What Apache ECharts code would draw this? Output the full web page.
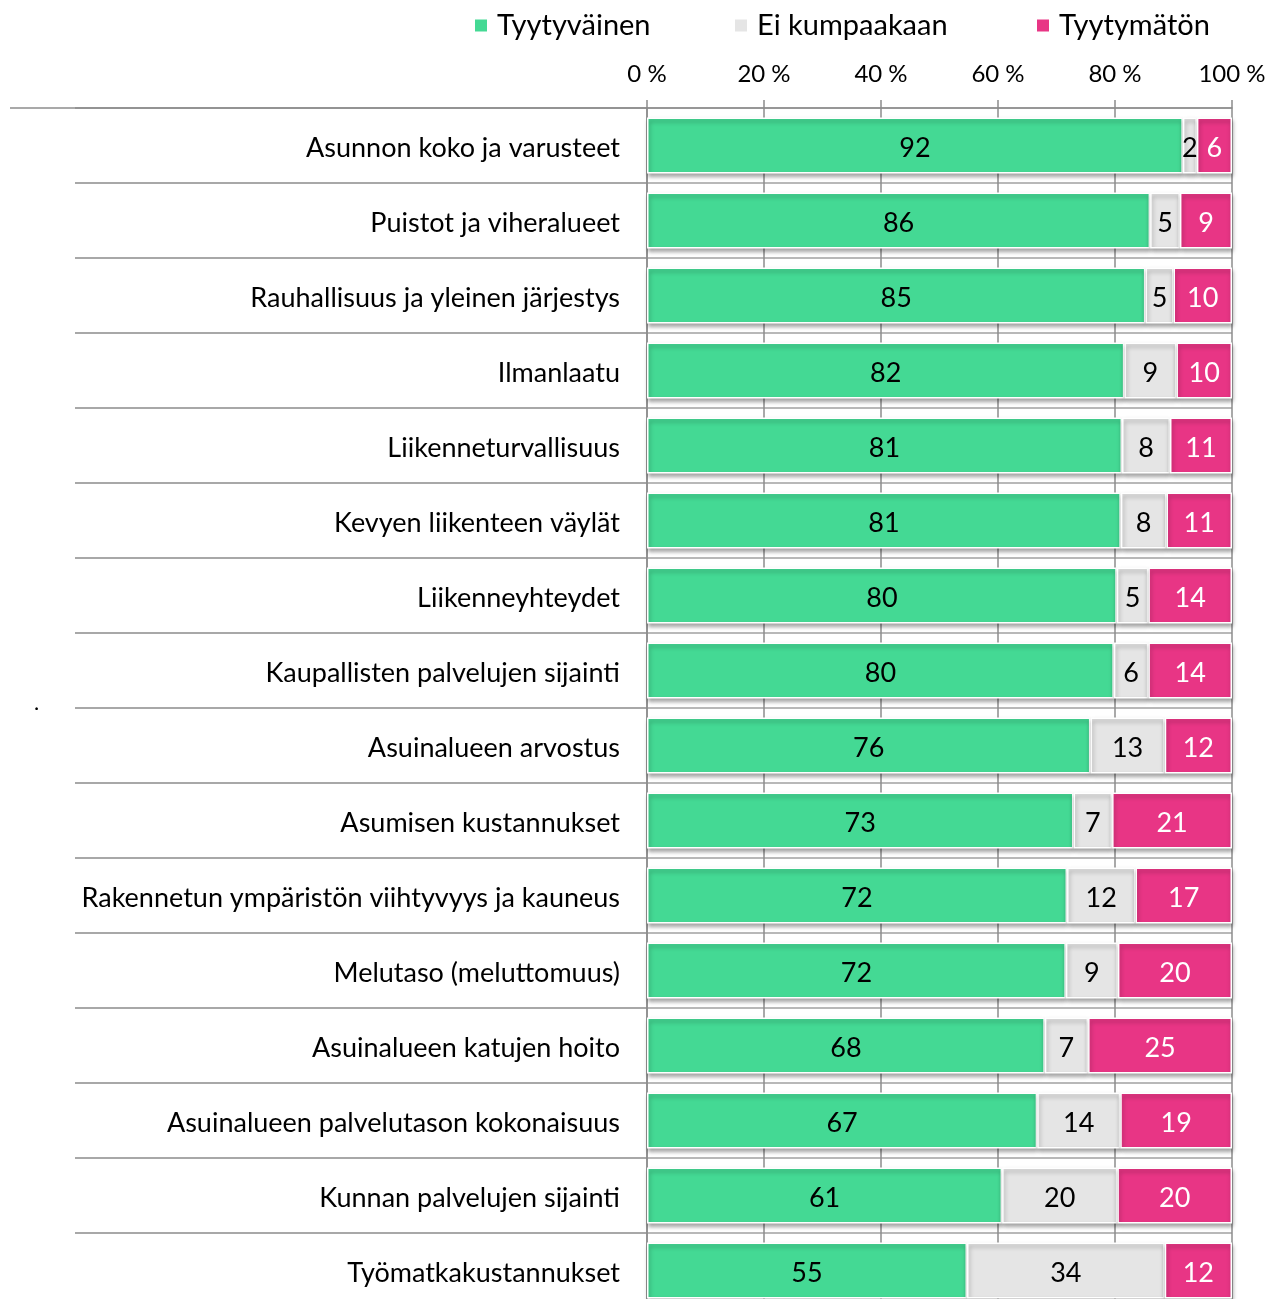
<!DOCTYPE html>
<html>
<head>
<meta charset="utf-8">
<script src="https://cdn.jsdelivr.net/npm/echarts@6/dist/echarts.min.js"></script>
<style>html,body{margin:0;padding:0;background:#fff;overflow:hidden;width:1273px;height:1299px}#c{width:1273px;height:1320px}</style>
</head>
<body>
<div id="c"></div>
<script>
const categories = [
  'Asunnon koko ja varusteet',
  'Puistot ja viheralueet',
  'Rauhallisuus ja yleinen järjestys',
  'Ilmanlaatu',
  'Liikenneturvallisuus',
  'Kevyen liikenteen väylät',
  'Liikenneyhteydet',
  'Kaupallisten palvelujen sijainti',
  'Asuinalueen arvostus',
  'Asumisen kustannukset',
  'Rakennetun ympäristön viihtyvyys ja kauneus',
  'Melutaso (meluttomuus)',
  'Asuinalueen katujen hoito',
  'Asuinalueen palvelutason kokonaisuus',
  'Kunnan palvelujen sijainti',
  'Työmatkakustannukset'
];
const seriesNames = ['Tyytyväinen', 'Ei kumpaakaan', 'Tyytymätön'];
const satisfied    = [91.6, 86.0, 85.2, 81.6, 81.2, 81.0, 80.3, 79.8, 75.8, 72.9, 71.8, 71.6, 68.0, 66.7, 60.7, 54.7];
const neutral      = [2.4, 5.1, 4.8, 8.9, 8.2, 7.8, 5.4, 5.9, 12.7, 6.6, 11.7, 8.9, 7.4, 14.2, 19.7, 33.8];
const dissatisfied = [6.0, 8.9, 10.0, 9.5, 10.6, 11.2, 14.3, 14.3, 11.5, 20.5, 16.5, 19.5, 24.6, 19.1, 19.6, 11.5];
const axisMin = 0, axisMax = 100, axisStep = 20;

const colors = ['#44D994', '#E5E5E5', '#E83585'];
const labelColors = ['#000', '#000', '#fff'];
const FONT = 'Lato';
const gridColor = '#8c8c8c';

const chart = echarts.init(document.getElementById('c'), null, {renderer: 'canvas'});

function mkSeries(name, data, i) {
  return {
    name: name,
    type: 'bar',
    stack: 'total',
    barWidth: 56,
    data: data,
    itemStyle: {
      color: colors[i],
      borderColor: '#ffffff',
      borderWidth: 1.5,
      shadowColor: 'rgba(0,0,0,0.35)',
      shadowBlur: 4,
      shadowOffsetX: 1,
      shadowOffsetY: 3
    },
    label: {
      show: true,
      position: 'inside',
      offset: [0, 3],
      color: labelColors[i],
      fontFamily: FONT,
      fontSize: 27,
      formatter: p => Math.round(p.value)
    },
    emphasis: {disabled: true}
  };
}

const legendLefts = [473, 733, 1035];

chart.setOption({
  animation: false,
  textStyle: {fontFamily: FONT},
  legend: seriesNames.map((n, i) => ({
    data: [n],
    left: legendLefts[i],
    top: 11,
    icon: 'rect',
    itemWidth: 14,
    itemHeight: 14,
    itemGap: 0,
    padding: 0,
    textStyle: {fontFamily: FONT, fontSize: 29, color: '#000', padding: [0, 0, 0, 4]},
    selectedMode: false
  })),
  grid: {left: 647, top: 108, width: 585, height: 1200, containLabel: false},
  xAxis: {
    type: 'value',
    position: 'top',
    min: axisMin,
    max: axisMax,
    interval: axisStep,
    axisLine: {show: true, lineStyle: {color: gridColor, width: 1.5}},
    axisTick: {show: true, length: 8, lineStyle: {color: gridColor, width: 1.5}},
    splitLine: {show: true, lineStyle: {color: gridColor, width: 1.5}},
    axisLabel: {
      formatter: '{value} %',
      fontFamily: FONT,
      fontSize: 24,
      color: '#000',
      margin: 22
    }
  },
  yAxis: {
    type: 'category',
    inverse: true,
    data: categories,
    axisLine: {show: true, lineStyle: {color: gridColor, width: 1.5}},
    axisTick: {show: true, length: 572, lineStyle: {color: gridColor, width: 1.5}},
    splitLine: {show: true, lineStyle: {color: '#a0a0a0', width: 1.5}},
    axisLabel: {
      fontFamily: FONT,
      fontSize: 27,
      color: '#000',
      margin: 27,
      verticalAlign: 'top',
      lineHeight: 6
    }
  },
  graphic: [
    {type: 'line', shape: {x1: 10, y1: 108, x2: 647, y2: 108}, style: {stroke: gridColor, lineWidth: 1.5}, silent: true},
    {type: 'text', left: 34, top: 692, style: {text: '.', fontFamily: FONT, fontSize: 22, fill: '#000'}, silent: true}
  ],
  series: [
    mkSeries(seriesNames[0], satisfied, 0),
    mkSeries(seriesNames[1], neutral, 1),
    mkSeries(seriesNames[2], dissatisfied, 2)
  ]
});
</script>
</body>
</html>
